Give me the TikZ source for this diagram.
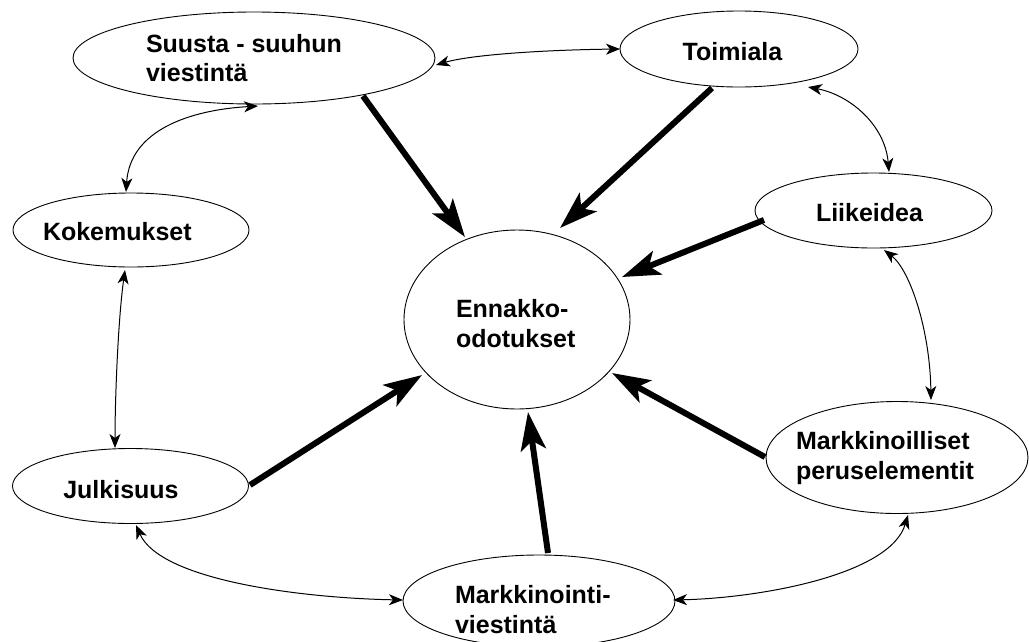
\documentclass[tikz,border=0pt]{standalone}
\usepackage{fontspec}
\setmainfont{Liberation Sans}
\usetikzlibrary{arrows.meta,shapes.geometric,calc}
\begin{document}
\begin{tikzpicture}[x=1pt,y=-1pt,
  oval/.style={draw,ellipse,inner sep=0pt,outer sep=0pt,line width=0.9pt},
  lbl/.style={inner sep=0pt,outer sep=0pt,anchor=base west,align=left,
    font=\fontsize{25pt}{29.5pt}\selectfont\bfseries},
  heavy/.style={line width=6pt,-{Stealth[length=38pt,width=25pt,inset=9pt]}},
  link/.style={line width=1pt,{Stealth[length=14pt,width=11pt,inset=4pt]}-{Stealth[length=14pt,width=11pt,inset=4pt]}}]
\fill[white] (0,0) rectangle (1029,641);
\useasboundingbox (0,0) rectangle (1029,641);
% ellipses
\node[oval,minimum width=362pt,minimum height=92pt] (suu) at (254,58) {};
\node[oval,minimum width=238pt,minimum height=76pt] (toi) at (739,49) {};
\node[oval,minimum width=236pt,minimum height=74pt] (kok) at (131,230) {};
\node[oval,minimum width=237pt,minimum height=75pt] (lii) at (873.5,210.5) {};
\node[oval,minimum width=226pt,minimum height=179pt] (enn) at (517,319.5) {};
\node[oval,minimum width=236pt,minimum height=75pt] (jul) at (130.5,486) {};
\node[oval,minimum width=262pt,minimum height=112pt] (mko) at (897,457.5) {};
\node[oval,minimum width=272pt,minimum height=92pt] (mvi) at (539,601) {};
% labels (base = last line's baseline)
\node[lbl] (suuT) at (146,81.5) {Suusta - suuhun\\viestintä};
\node[lbl] (toiT) at (682.7,60) {Toimiala};
\node[lbl] (kokT) at (43,240.7) {Kokemukset};
\node[lbl] (liiT) at (816,221.7) {Liikeidea};
\node[lbl] (ennT) at (456,347) {Ennakko-\\odotukset};
\node[lbl] (julT) at (63.3,498.3) {Julkisuus};
\node[lbl] (mkoT) at (796,479) {Markkinoilliset\\peruselementit};
\node[lbl] (mviT) at (455,633) {Markkinointi-\\viestintä};
% heavy arrows
\draw[heavy] ($(suu)+(109,38)$) -- ($(enn)+(-52,-82.5)$);
\draw[heavy] ($(toi)+(-27,39)$) -- ($(enn)+(43,-91.5)$);
\draw[heavy] ($(lii)+(-109.5,9.5)$) -- ($(enn)+(105,-42.5)$);
\draw[heavy] ($(jul)+(119.5,-1)$) -- ($(enn)+(-95,55.5)$);
\draw[heavy] ($(mko)+(-132,-0.5)$) -- ($(enn)+(95,53.5)$);
\draw[heavy] ($(mvi)+(9,-48)$) -- ($(enn)+(11,92.5)$);
% thin links
\draw[link] ($(suu)+(182,7)$) .. controls +(34,-10) and +(-80,1) .. ($(toi)+(-119,0)$);
\draw[link] ($(suu)+(4,48)$) .. controls +(-68,4) and +(4,-62) .. ($(kok)+(-5,-38)$);
\draw[link] ($(toi)+(69,38)$) .. controls +(42,8) and +(-4,-47) .. ($(lii)+(15.5,-38.5)$);
\draw[link] ($(kok)+(-6,40)$) .. controls +(-7,50) and +(0,-48) .. ($(jul)+(-15.5,-38)$);
\draw[link] ($(lii)+(10.5,39.5)$) .. controls +(26,20) and +(-1,-70) .. ($(mko)+(34,-57.5)$);
\draw[link] ($(jul)+(5.5,39)$) .. controls +(24,55) and +(-103,-2) .. ($(mvi)+(-136,-1)$);
\draw[link] ($(mko)+(11,57.5)$) .. controls +(-18,60) and +(87,-2) .. ($(mvi)+(134,-1)$);
\end{tikzpicture}
\end{document}
